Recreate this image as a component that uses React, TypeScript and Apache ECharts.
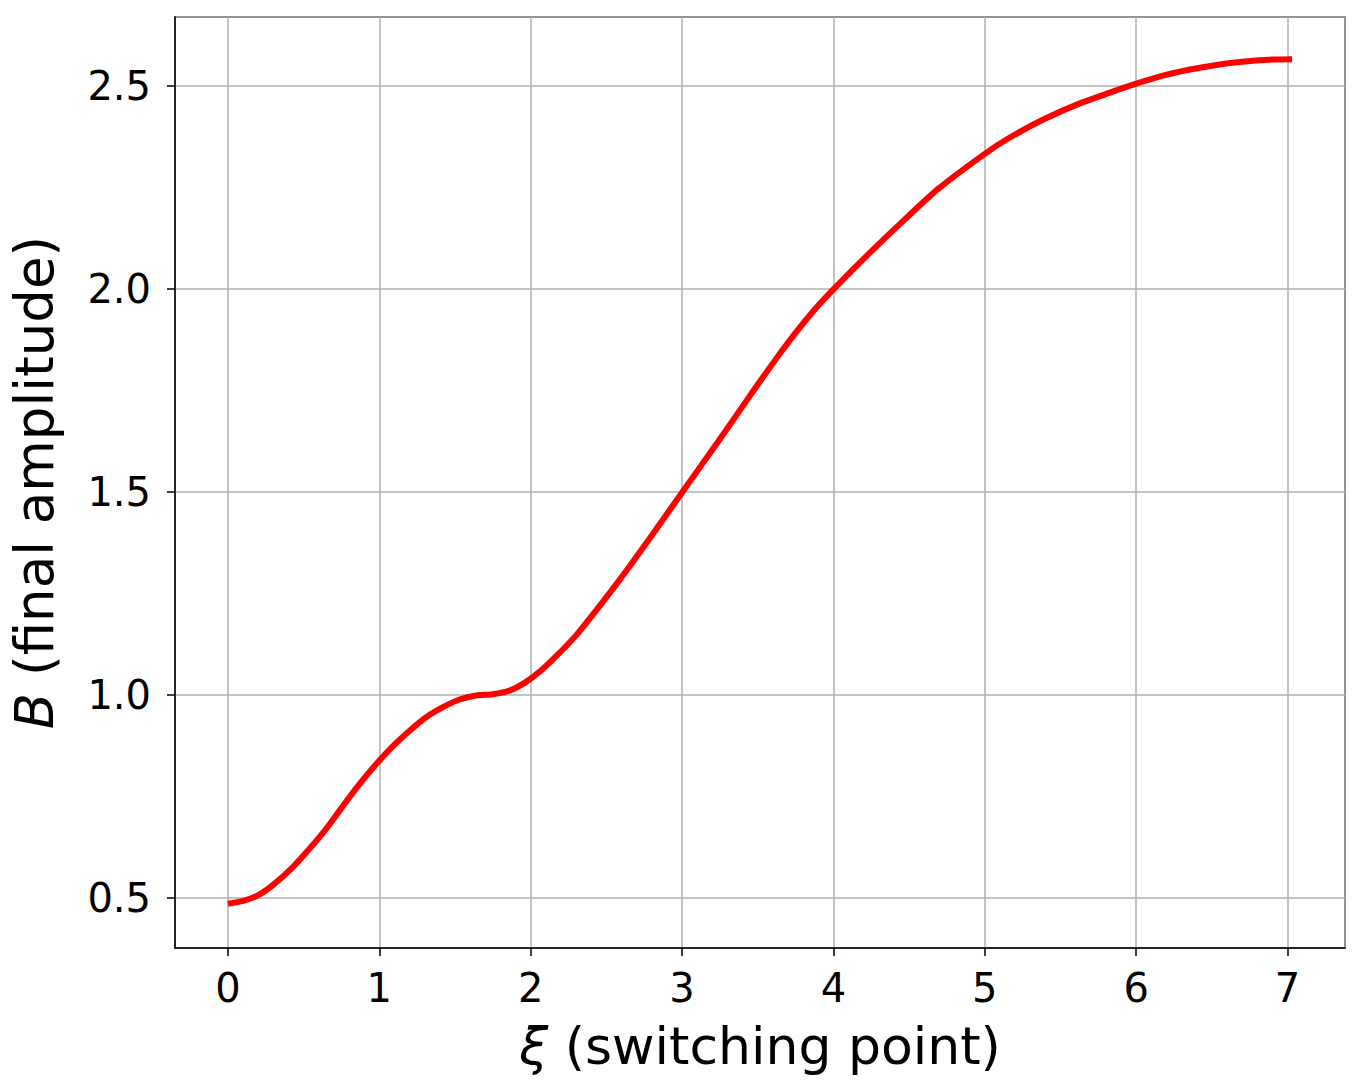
import React, { useEffect, useRef } from "react";
import * as echarts from "echarts";

const xiValues = [
  0.0, 0.1, 0.2, 0.3, 0.43, 0.54, 0.65, 0.76, 0.87, 0.98, 1.09, 1.2, 1.3, 1.42, 1.53, 1.64,
  1.75, 1.86, 1.96, 2.07, 2.18, 2.3, 2.4, 2.58, 2.8, 3.0, 3.24, 3.45, 3.67, 3.85, 4.0, 4.24,
  4.47, 4.7, 5.0, 5.16, 5.39, 5.62, 5.85, 6.0, 6.19, 6.42, 6.65, 6.88, 7.03,
];
const bValues = [
  0.485, 0.492, 0.506, 0.532, 0.576, 0.621, 0.67, 0.726, 0.78, 0.829, 0.873, 0.911, 0.942,
  0.969, 0.988, 0.998, 1.001, 1.01, 1.029, 1.06, 1.099, 1.146, 1.192, 1.279, 1.392, 1.498,
  1.624, 1.737, 1.852, 1.937, 1.998, 2.088, 2.17, 2.248, 2.332, 2.371, 2.417, 2.455, 2.486,
  2.505, 2.526, 2.544, 2.557, 2.564, 2.565,
];
const xTickLabels = ["0", "1", "2", "3", "4", "5", "6", "7"];
const yTickLabels = ["0.5", "1.0", "1.5", "2.0", "2.5"];

const FONT = "DejaVu Sans";

export default function App() {
  const ref = useRef<HTMLDivElement>(null);
  useEffect(() => {
    if (!ref.current) return;
    const chart = echarts.init(ref.current, undefined, { renderer: "svg" });
    const data = xiValues.map((x, i) => [x, bValues[i]]);
    chart.setOption({
      animation: false,
      backgroundColor: "#ffffff",
      grid: {
        left: 174,
        top: 17,
        right: 16,
        bottom: 140,
        show: true,
        borderColor: "#000000",
        borderWidth: 1.5,
        backgroundColor: "transparent",
      },
      xAxis: {
        type: "value",
        min: -0.35,
        max: 7.38,
        splitNumber: 8,
        minInterval: 1,
        maxInterval: 1,
        name: "{i|ξ} (switching point)",
        nameLocation: "middle",
        nameGap: 72,
        nameTextStyle: {
          fontFamily: FONT,
          fontSize: 52,
          color: "#000",
          rich: { i: { fontFamily: FONT, fontSize: 52, fontStyle: "italic", color: "#000" } },
        },
        axisLine: { show: true, onZero: false, lineStyle: { color: "#000", width: 1.5 } },
        axisTick: { show: true, length: 8, inside: false, lineStyle: { color: "#000", width: 1.5 } },
        axisLabel: {
          margin: 20,
          fontFamily: FONT,
          fontSize: 40,
          color: "#000",
          showMinLabel: false,
          showMaxLabel: false,
          formatter: (v: number) => {
            const s = String(Math.round(v));
            return Math.abs(v - Math.round(v)) < 1e-6 && xTickLabels.includes(s) ? s : "";
          },
        },
        splitLine: { show: true, lineStyle: { color: "#b0b0b0", width: 1.5 } },
      },
      yAxis: {
        type: "value",
        min: 0.376,
        max: 2.669,
        splitNumber: 5,
        minInterval: 0.5,
        maxInterval: 0.5,
        name: "{i|B} (final amplitude)",
        nameLocation: "middle",
        nameGap: 114,
        nameRotate: 90,
        nameTextStyle: {
          fontFamily: FONT,
          fontSize: 53,
          color: "#000",
          rich: { i: { fontFamily: FONT, fontSize: 53, fontStyle: "italic", color: "#000" } },
        },
        axisLine: { show: true, onZero: false, lineStyle: { color: "#000", width: 1.5 } },
        axisTick: { show: true, length: 8, inside: false, lineStyle: { color: "#000", width: 1.5 } },
        axisLabel: {
          margin: 24,
          fontFamily: FONT,
          fontSize: 40,
          color: "#000",
          showMinLabel: false,
          showMaxLabel: false,
          formatter: (v: number) => {
            const s = v.toFixed(1);
            return Math.abs(v * 2 - Math.round(v * 2)) < 1e-6 && yTickLabels.includes(s) ? s : "";
          },
        },
        splitLine: { show: true, lineStyle: { color: "#b0b0b0", width: 1.5 } },
      },
      series: [
        {
          type: "line",
          data,
          smooth: 0.25,
          showSymbol: false,
          lineStyle: { color: "#ff0000", width: 6 },
        },
      ],
    });
    return () => chart.dispose();
  }, []);
  return (
    <div
      ref={ref}
      style={{ position: "fixed", left: 0, top: 0, width: 1361, height: 1088, background: "#fff" }}
    />
  );
}
